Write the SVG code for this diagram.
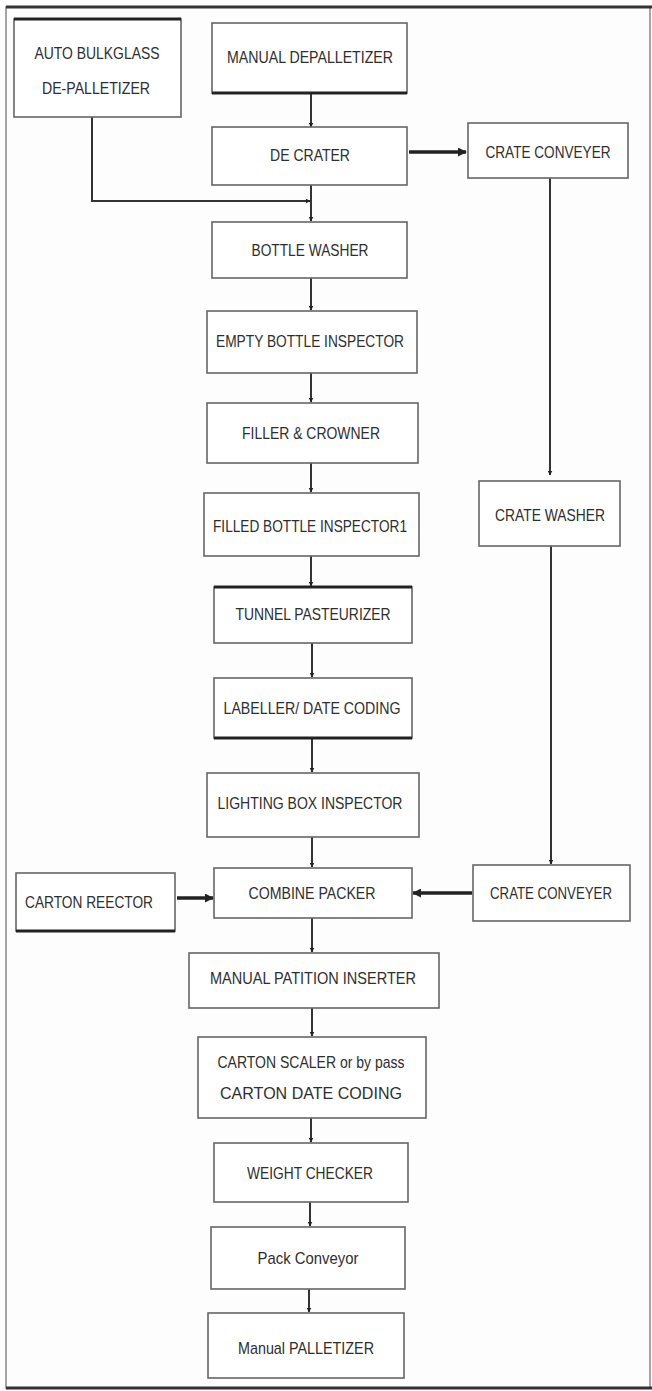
<svg xmlns="http://www.w3.org/2000/svg" width="652" height="1391" viewBox="0 0 652 1391">
<style>
.box{fill:#fff;stroke:#666;stroke-width:1.6}
.thick{stroke:#222;stroke-width:3;fill:none}
.t{font-family:"Liberation Sans","DejaVu Sans",sans-serif;font-size:17px;fill:#2e2e2e;text-anchor:middle;dominant-baseline:central}
.c{stroke:#333;stroke-width:2;fill:none}
.cb{stroke:#222;stroke-width:3.5;fill:none}
</style>
<defs>
<marker id="ah" viewBox="0 0 10 10" refX="9" refY="5" markerWidth="5" markerHeight="5" orient="auto" markerUnits="userSpaceOnUse">
<path d="M0,0 L10,5 L0,10 z" fill="#222"/>
</marker>
<marker id="ahb" viewBox="0 0 10 10" refX="9" refY="5" markerWidth="9" markerHeight="9" orient="auto" markerUnits="userSpaceOnUse">
<path d="M0,0 L10,5 L0,10 z" fill="#222"/>
</marker>
</defs>
<rect x="0" y="0" width="652" height="1391" fill="#fdfdfd"/>
<rect x="6" y="7" width="644" height="1381" fill="none" stroke="#888" stroke-width="1.5"/>
<line x1="6" y1="7" x2="652" y2="7" stroke="#333" stroke-width="3"/>
<line x1="6" y1="1388" x2="652" y2="1388" stroke="#333" stroke-width="3"/>

<g id="connectors">
<path class="c" d="M311,93 V127" marker-end="url(#ah)"/>
<path class="cb" d="M409,152 H466" marker-end="url(#ahb)"/>
<path class="c" d="M92,117 V201 H310" marker-end="url(#ah)"/>
<path class="c" d="M311,185 V221" marker-end="url(#ah)"/>
<path class="c" d="M311,278 V310" marker-end="url(#ah)"/>
<path class="c" d="M311,373 V402" marker-end="url(#ah)"/>
<path class="c" d="M311,463 V492" marker-end="url(#ah)"/>
<path class="c" d="M311,556 V586" marker-end="url(#ah)"/>
<path class="c" d="M312,643 V677" marker-end="url(#ah)"/>
<path class="c" d="M312,738 V772" marker-end="url(#ah)"/>
<path class="c" d="M312,837 V867" marker-end="url(#ah)"/>
<path class="c" d="M550,178 V475" marker-end="url(#ah)"/>
<path class="c" d="M551,546 V864" marker-end="url(#ah)"/>
<path class="cb" d="M177,898 H213" marker-end="url(#ahb)"/>
<path class="cb" d="M472,893 H413" marker-end="url(#ahb)"/>
<path class="c" d="M312,918 V952" marker-end="url(#ah)"/>
<path class="c" d="M312,1008 V1036" marker-end="url(#ah)"/>
<path class="c" d="M311,1118 V1142" marker-end="url(#ah)"/>
<path class="c" d="M310,1202 V1226" marker-end="url(#ah)"/>
<path class="c" d="M309,1289 V1312" marker-end="url(#ah)"/>
</g>

<g id="auto-bulkglass">
<rect class="box" x="14" y="19" width="167" height="98"/>
<line class="thick" x1="14" y1="19" x2="181" y2="19"/>
<text class="t" x="97" y="53" textLength="125" lengthAdjust="spacingAndGlyphs">AUTO BULKGLASS</text>
<text class="t" x="96" y="88" textLength="108" lengthAdjust="spacingAndGlyphs">DE-PALLETIZER</text>
</g>
<g id="manual-depalletizer">
<rect class="box" x="212" y="23" width="195" height="70"/>
<line class="thick" x1="212" y1="93" x2="407" y2="93"/>
<text class="t" x="310" y="57" textLength="166" lengthAdjust="spacingAndGlyphs">MANUAL DEPALLETIZER</text>
</g>
<g id="de-crater">
<rect class="box" x="212" y="127" width="195" height="58"/>
<text class="t" x="310" y="155" textLength="80" lengthAdjust="spacingAndGlyphs">DE CRATER</text>
</g>
<g id="crate-conveyer-top">
<rect class="box" x="468" y="123" width="160" height="55"/>
<text class="t" x="548" y="152" textLength="125" lengthAdjust="spacingAndGlyphs">CRATE CONVEYER</text>
</g>
<g id="bottle-washer">
<rect class="box" x="212" y="222" width="195" height="56"/>
<text class="t" x="310" y="250" textLength="117" lengthAdjust="spacingAndGlyphs">BOTTLE WASHER</text>
</g>
<g id="empty-bottle-inspector">
<rect class="box" x="207" y="311" width="210" height="62"/>
<text class="t" x="310" y="341" textLength="188" lengthAdjust="spacingAndGlyphs">EMPTY BOTTLE INSPECTOR</text>
</g>
<g id="filler-crowner">
<rect class="box" x="207" y="403" width="211" height="60"/>
<text class="t" x="311" y="433" textLength="138" lengthAdjust="spacingAndGlyphs">FILLER &amp; CROWNER</text>
</g>
<g id="filled-bottle-inspector">
<rect class="box" x="204" y="493" width="215" height="63"/>
<text class="t" x="310" y="526" textLength="194" lengthAdjust="spacingAndGlyphs">FILLED BOTTLE INSPECTOR1</text>
</g>
<g id="crate-washer">
<rect class="box" x="479" y="481" width="141" height="65"/>
<text class="t" x="550" y="515" textLength="110" lengthAdjust="spacingAndGlyphs">CRATE WASHER</text>
</g>
<g id="tunnel-pasteurizer">
<rect class="box" x="214" y="587" width="198" height="56"/>
<line class="thick" x1="214" y1="587" x2="412" y2="587"/>
<text class="t" x="313" y="614" textLength="155" lengthAdjust="spacingAndGlyphs">TUNNEL PASTEURIZER</text>
</g>
<g id="labeller">
<rect class="box" x="214" y="678" width="198" height="60"/>
<line class="thick" x1="214" y1="738" x2="412" y2="738"/>
<text class="t" x="312" y="708" textLength="177" lengthAdjust="spacingAndGlyphs">LABELLER/ DATE CODING</text>
</g>
<g id="lighting-box-inspector">
<rect class="box" x="207" y="773" width="212" height="64"/>
<text class="t" x="310" y="803" textLength="185" lengthAdjust="spacingAndGlyphs">LIGHTING BOX INSPECTOR</text>
</g>
<g id="carton-reector">
<rect class="box" x="16" y="873" width="159" height="58"/>
<line class="thick" x1="16" y1="931" x2="175" y2="931"/>
<text class="t" x="89" y="902" textLength="128" lengthAdjust="spacingAndGlyphs">CARTON REECTOR</text>
</g>
<g id="combine-packer">
<rect class="box" x="214" y="868" width="198" height="50"/>
<text class="t" x="312" y="893" textLength="127" lengthAdjust="spacingAndGlyphs">COMBINE PACKER</text>
</g>
<g id="crate-conveyer-bottom">
<rect class="box" x="473" y="865" width="157" height="56"/>
<text class="t" x="551" y="893" textLength="122" lengthAdjust="spacingAndGlyphs">CRATE CONVEYER</text>
</g>
<g id="manual-patition-inserter">
<rect class="box" x="189" y="953" width="250" height="55"/>
<text class="t" x="313" y="978" textLength="206" lengthAdjust="spacingAndGlyphs">MANUAL PATITION INSERTER</text>
</g>
<g id="carton-scaler">
<rect class="box" x="198" y="1037" width="228" height="81"/>
<text class="t" x="311" y="1062" textLength="187" lengthAdjust="spacingAndGlyphs">CARTON SCALER or by pass</text>
<text class="t" x="311" y="1093" textLength="182" lengthAdjust="spacingAndGlyphs">CARTON DATE CODING</text>
</g>
<g id="weight-checker">
<rect class="box" x="214" y="1143" width="194" height="59"/>
<text class="t" x="310" y="1173" textLength="126" lengthAdjust="spacingAndGlyphs">WEIGHT CHECKER</text>
</g>
<g id="pack-conveyor">
<rect class="box" x="211" y="1227" width="194" height="62"/>
<text class="t" x="308" y="1258" textLength="101" lengthAdjust="spacingAndGlyphs">Pack Conveyor</text>
</g>
<g id="manual-palletizer">
<rect class="box" x="208" y="1313" width="196" height="65"/>
<text class="t" x="306" y="1348" textLength="136" lengthAdjust="spacingAndGlyphs">Manual PALLETIZER</text>
</g>
</svg>
